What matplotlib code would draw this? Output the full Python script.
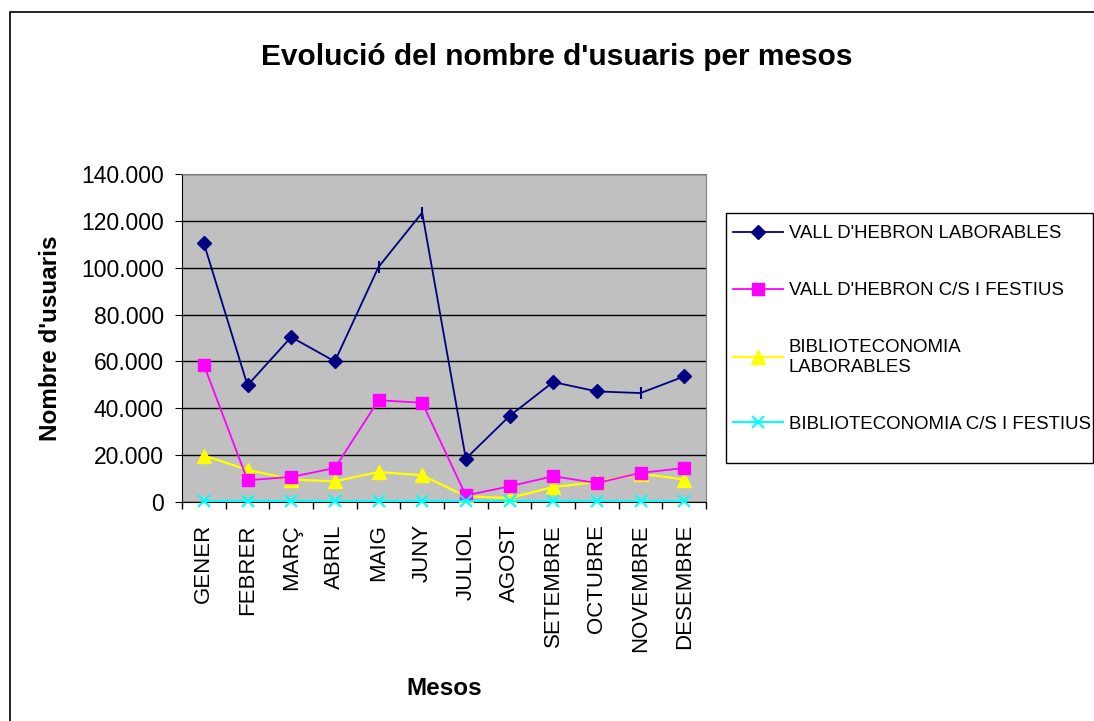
import matplotlib
matplotlib.use("Agg")
import matplotlib.pyplot as plt
from matplotlib.ticker import FuncFormatter, MultipleLocator, FixedLocator
from matplotlib.patches import Rectangle
import numpy as np

plt.rcParams['font.family'] = ['Liberation Sans', 'DejaVu Sans']

months = ["GENER", "FEBRER", "MARÇ", "ABRIL", "MAIG", "JUNY", "JULIOL",
          "AGOST", "SETEMBRE", "OCTUBRE", "NOVEMBRE", "DESEMBRE"]
vall_lab = [110500, 49800, 70400, 60000, 100300, 123500, 18500, 36700, 51200, 47200, 46500, 53600]
vall_fest = [58600, 9300, 10700, 14500, 43400, 42400, 2800, 6700, 11000, 8100, 12400, 14500]
biblio_lab = [19800, 13800, 9600, 8800, 12800, 11400, 2400, 1700, 6400, 8500, 12100, 9600]
biblio_fest = [300, 300, 300, 300, 300, 300, 300, 300, 300, 300, 300, 300]
labels = ["VALL D'HEBRON LABORABLES", "VALL D'HEBRON C/S I FESTIUS",
          "BIBLIOTECONOMIA\nLABORABLES", "BIBLIOTECONOMIA C/S I FESTIUS"]

W, H = 1094, 721
fig = plt.figure(figsize=(W/100, H/100), dpi=100)
ax = fig.add_axes([182/W, 1-502/H, (706-182)/W, (502-174)/H])
ax.set_facecolor('#C0C0C0')

x = np.arange(len(months))
diamond_idx = [i for i in range(len(months)) if i not in (4, 5, 10)]
tick_idx = [4, 5, 10]

l1, = ax.plot(x, vall_lab, color='#000080', lw=1.3, marker='D', ms=7,
              markevery=diamond_idx, zorder=5)
ax.plot(x[tick_idx], np.array(vall_lab)[tick_idx], ls='none', marker='|',
        ms=9, mew=1.5, color='#000080', zorder=5)
l2, = ax.plot(x, vall_fest, color='#FF00FF', lw=1.3, marker='s', ms=9, zorder=4)
l3, = ax.plot(x, biblio_lab, color='#FFFF00', lw=1.6, marker='^', ms=10, zorder=3)
l4, = ax.plot(x, biblio_fest, color='#00FFFF', lw=1.5, marker='x', ms=9, mew=1.5, zorder=6,
              clip_on=False)

ax.set_xlim(-0.5, 11.5)
ax.set_ylim(0, 140000)
ax.yaxis.set_major_locator(MultipleLocator(20000))
ax.yaxis.set_major_formatter(FuncFormatter(lambda v, p: f"{int(v):,}".replace(",", ".")))
ax.grid(axis='y', color='black', lw=1)
ax.set_axisbelow(True)

ax.xaxis.set_major_locator(FixedLocator(x))
ax.set_xticklabels(months, rotation=90, fontsize=16)
ax.tick_params(axis='x', which='major', length=0, pad=16)
ax.xaxis.set_minor_locator(FixedLocator(np.arange(-0.5, 12, 1)))
ax.tick_params(axis='x', which='minor', length=5, direction='out', width=1)
ax.tick_params(axis='y', length=5, direction='out', labelsize=16.5, pad=8)

for s in ['left', 'bottom']:
    ax.spines[s].set_color('black')
for s in ['top', 'right']:
    ax.spines[s].set_color('#808080')

ax.set_ylabel("Nombre d'usuaris", fontsize=17.5, fontweight='bold', labelpad=14)
ax.set_xlabel("Mesos", fontsize=17.5, fontweight='bold', labelpad=18)

fig.text(557/W, 1-57/H, "Evolució del nombre d'usuaris per mesos", fontsize=21.5,
         fontweight='bold', ha='center', va='center')

leg = fig.legend([l1, l2, l3, l4], labels, loc='upper left',
                 bbox_to_anchor=(733/W, 1-225/H),
                 borderaxespad=0, borderpad=0, fontsize=13.4, frameon=False,
                 labelspacing=2.15, handlelength=2.7, handletextpad=0.3)

fig.patches.append(Rectangle((726/W, 1-463/H), (1093-726)/W, (463-213)/H,
                             transform=fig.transFigure, fill=False,
                             edgecolor='black', lw=1))
fig.patches.append(Rectangle((10/W, -0.05), 1.2, 1-12/H+0.05, transform=fig.transFigure,
                             fill=False, edgecolor='black', lw=1.2))

fig.savefig("out.png", dpi=100)
